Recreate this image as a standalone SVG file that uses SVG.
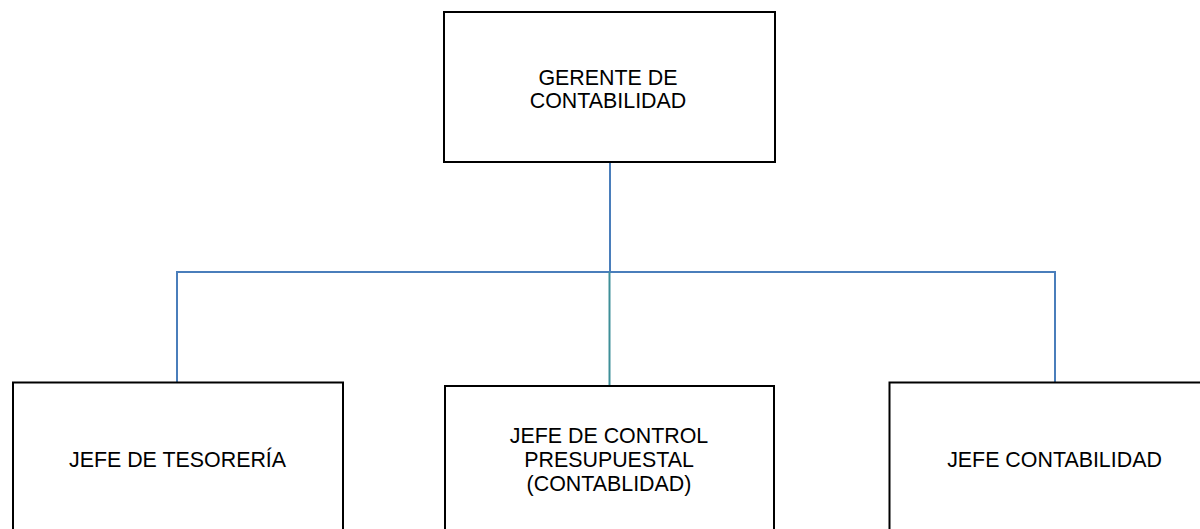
<svg xmlns="http://www.w3.org/2000/svg" width="1200" height="529" viewBox="0 0 1200 529">
  <style>
    .box { fill: #ffffff; stroke: #000000; stroke-width: 2; }
    .lbl { font-family: "Liberation Sans", Arial, sans-serif; font-size: 21.4px; fill: #000000; text-anchor: middle; }
    .conn { fill: none; stroke: #4A7EBB; stroke-width: 2; }
    .conn2 { fill: none; stroke: #3E8F98; stroke-width: 2; }
  </style>
  <rect width="1200" height="529" fill="#ffffff"/>
  <g id="connectors">
    <line class="conn" x1="610" y1="162" x2="610" y2="272"/>
    <polyline class="conn" points="177,382 177,272 1055,272 1055,382"/>
    <line class="conn2" x1="609.5" y1="272" x2="609.5" y2="386"/>
  </g>
  <g id="gerente">
    <rect class="box" x="444" y="12" width="331" height="150"/>
    <text class="lbl" x="608" y="85">GERENTE DE</text>
    <text class="lbl" x="608" y="107.5">CONTABILIDAD</text>
  </g>
  <g id="tesoreria">
    <rect class="box" x="13" y="382.5" width="330" height="160"/>
    <text class="lbl" x="177.5" y="466.5">JEFE DE TESORERÍA</text>
  </g>
  <g id="control">
    <rect class="box" x="445" y="386" width="329" height="160"/>
    <text class="lbl" x="609" y="443">JEFE DE CONTROL</text>
    <text class="lbl" x="609" y="467">PRESUPUESTAL</text>
    <text class="lbl" x="609" y="491">(CONTABLIDAD)</text>
  </g>
  <g id="contabilidad">
    <rect class="box" x="889.5" y="382.5" width="330" height="160"/>
    <text class="lbl" x="1054.5" y="466.5">JEFE CONTABILIDAD</text>
  </g>
</svg>
